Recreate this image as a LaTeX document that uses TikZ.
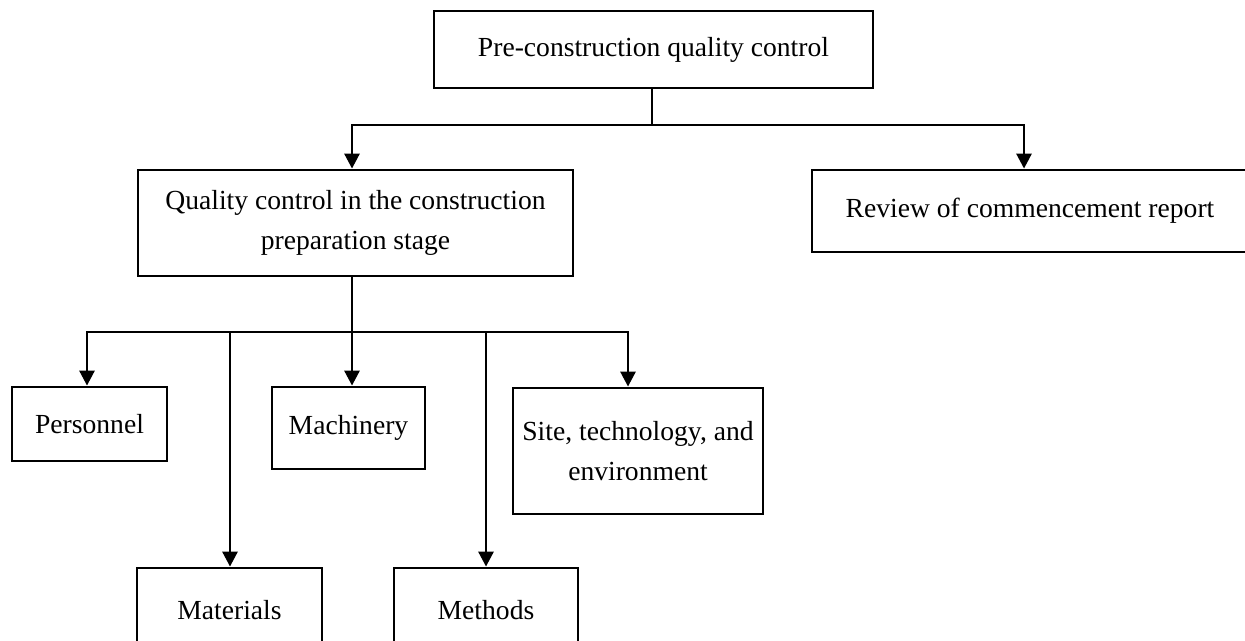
\documentclass[tikz,border=0pt]{standalone}
\usepackage{fontspec}
\setmainfont{Liberation Serif}
\usetikzlibrary{arrows.meta}
\begin{document}
\begin{tikzpicture}[x=0.5pt,y=-0.5pt,
  box/.style={draw, line width=1.4pt, inner sep=0pt, align=center, font=\fontsize{13.8}{20}\selectfont},
  link/.style={line width=1.4pt},
  arr/.style={line width=1.4pt, -{Triangle[width=7.5pt,length=7.5pt]}}]
\useasboundingbox (0,0) rectangle (1245,641);
\node[box, minimum width=219.5pt, minimum height=38.5pt] (top) at (653.5,49.5) {Pre-construction quality control};
\node[box, minimum width=217.5pt, minimum height=53pt] (L) at (355.5,223) {Quality control in the construction\\preparation stage};
\node[box, minimum width=218pt, minimum height=41pt] (R) at (1030,211) {Review of commencement report};
\node[box, minimum width=77.5pt, minimum height=37pt] (P) at (89.5,424) {Personnel};
\node[box, minimum width=76.5pt, minimum height=41pt] (Mc) at (348.5,428) {Machinery};
\node[box, minimum width=125pt, minimum height=63pt] (S) at (638,451) {Site, technology, and\\environment};
\node[box, minimum width=92.5pt, minimum height=42pt] (M) at (229.5,610) {Materials};
\node[box, minimum width=92pt, minimum height=42pt] (Me) at (486,610) {Methods};
% first level
\coordinate (bT) at (652,125);
\coordinate (bL) at (352,125);
\coordinate (bR) at (1024,125);
\draw[link] (top.south -| bT) -- (bT);
\draw[arr] (bT) -| (bL |- L.north);
\draw[arr] (bT) -| (bR |- R.north);
% second level
\coordinate (cP) at (87,332);
\coordinate (cM) at (230,332);
\coordinate (cMc) at (352,332);
\coordinate (cMe) at (486,332);
\coordinate (cS) at (628,332);
\draw[link] (L.south -| cMc) -- (cMc);
\draw[arr] (cMc) -| (cP |- P.north);
\draw[arr] (cMc) -| (cS |- S.north);
\draw[arr] (cMc) -- (cMc |- Mc.north);
\draw[arr] (cM) -- (cM |- M.north);
\draw[arr] (cMe) -- (cMe |- Me.north);
\end{tikzpicture}
\end{document}
